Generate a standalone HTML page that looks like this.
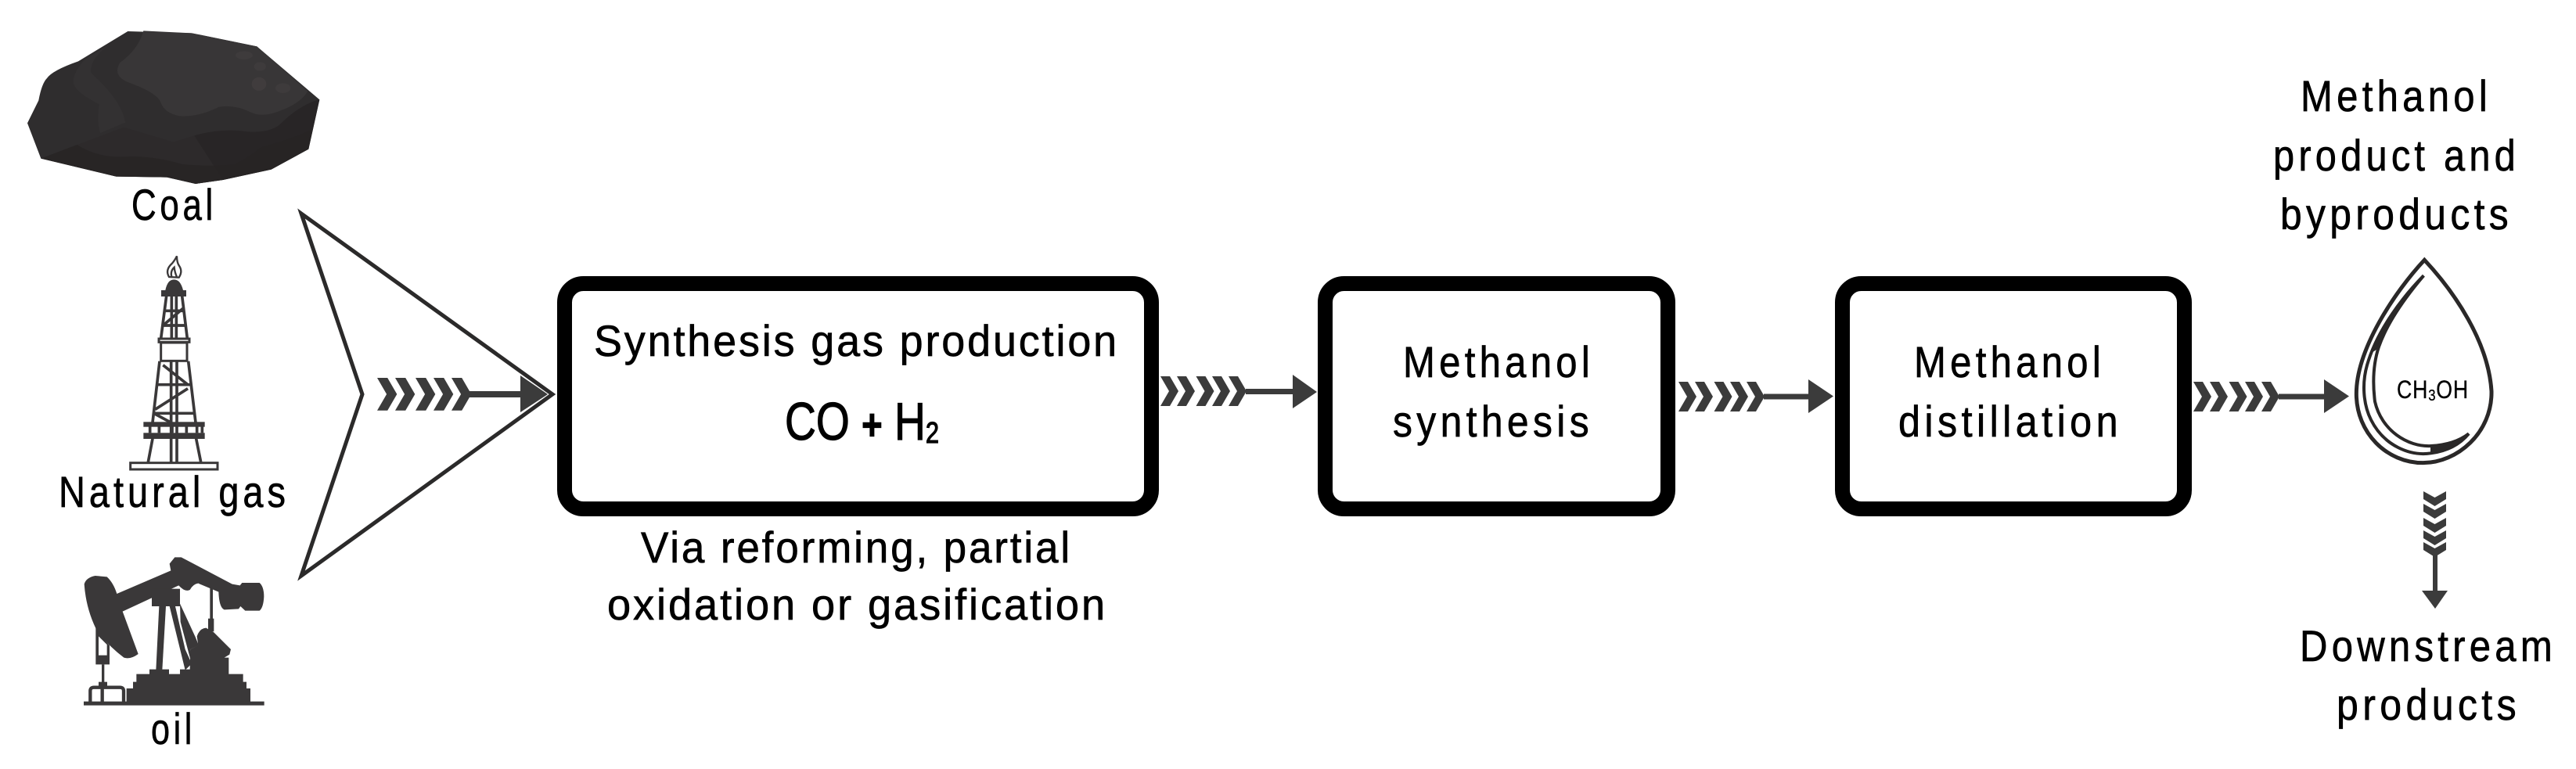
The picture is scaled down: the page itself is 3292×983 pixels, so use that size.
<!DOCTYPE html>
<html><head><meta charset="utf-8">
<style>
html,body{margin:0;padding:0;background:#fff;width:3292px;height:983px;overflow:hidden}
svg{display:block}
text{font-family:"Liberation Sans",sans-serif;font-size:56px;fill:#000;stroke:#000;stroke-width:.7px;letter-spacing:6px}
.t{letter-spacing:3px}
</style></head><body>
<svg width="3292" height="983" viewBox="0 0 3292 983" xmlns="http://www.w3.org/2000/svg">
<defs>
<polygon id="c" points="0,0 12,0 23,19 12,38 0,38 11,19" fill="#3b3b3b"/>
<g id="ch">
<use href="#c" x="0"/><use href="#c" x="21"/><use href="#c" x="45.5"/><use href="#c" x="66"/><use href="#c" x="87"/>
</g>
<polygon id="d" points="0,0 14.5,8 29,0 29,10 14.5,19 0,10" fill="#3b3b3b"/>
</defs>

<!-- Coal -->
<g transform="scale(.33333)">
<path d="M490,120 L735,127 L985,178 L1225,382 L1183,572 L1040,650 L855,690 L750,705 L640,680 L445,677 L157,608 L105,472 L148,385 Q160,320 180,300 Q200,270 300,235 Z" fill="#2f2d2e"/>
<path d="M550,118 L735,127 L985,178 L1180,350 Q1150,400 1060,430 Q1000,450 960,430 Q900,400 840,410 Q760,450 690,445 Q630,435 615,390 Q600,355 490,315 Q430,290 460,240 Q530,190 550,118 Z" fill="#383637"/>
<path d="M420,170 Q340,230 350,280 Q470,390 480,470 L385,510 Q370,470 380,400 Q280,350 280,310 Q290,260 330,225Z" fill="#333132"/>
<path d="M157,608 L475,488 L665,545 L745,520 L855,690 L750,705 L640,680 L445,677Z" fill="#2d2a2b"/>
<path d="M745,520 Q850,490 950,505 Q1030,510 1070,480 Q1150,400 1225,382 L1183,572 L1040,650 L855,690 Z" fill="#282526"/>
<path d="M157,608 L295,555 Q380,610 500,600 Q600,600 700,630 Q820,640 900,630 Q960,600 1000,565 Q1100,540 1190,500 L1183,572 L1040,650 L855,690 L750,705 L640,680 L445,677Z" fill="#262324" opacity=".7"/>
<ellipse cx="936" cy="212" rx="33" ry="16" fill="#3e3b3c"/>
<ellipse cx="997" cy="255" rx="23" ry="17" fill="#3e3b3c"/>
<ellipse cx="993" cy="322" rx="28" ry="26" fill="#403c3d"/>
<ellipse cx="1085" cy="338" rx="29" ry="19" fill="#3e3b3c"/>
</g>
<text x="168" y="281" textLength="109" lengthAdjust="spacingAndGlyphs">Coal</text>

<!-- Derrick -->
<g transform="translate(140,310) scale(.33333)" stroke="#3a3839" fill="none" stroke-width="11">
<path d="M228,132 Q212,105 240,80 Q252,65 258,52 Q258,75 266,88 Q282,110 266,134 Z M238,132 Q232,110 248,95 Q250,115 258,132" stroke-width="7"/>
<path d="M214,183 Q222,142 247,142 Q272,142 282,183 Z" fill="#3a3839" stroke="none"/>
<rect x="198" y="183" width="96" height="24" fill="#3a3839" stroke="none"/>
<path d="M218,205 L197,368 M278,205 L298,368 M238,207 V368 M256,207 V368 M210,262 H286 M203,318 H292 M205,318 L285,250"/>
<rect x="189" y="369" width="117" height="13" stroke-width="9"/>
<rect x="197" y="384" width="100" height="70" stroke-width="9"/>
<path d="M192,455 L165,690 M302,455 L330,690 M236,455 V842 M258,455 V842 M180,545 H312 M172,655 H322 M205,470 L300,545 M300,560 L175,640 M170,655 L238,692"/>
<rect x="130" y="688" width="235" height="19" fill="#3a3839" stroke="none"/>
<rect x="130" y="730" width="235" height="23" fill="#3a3839" stroke="none"/>
<path d="M155,705 V730 M190,705 V730 M240,705 V730 M295,705 V730 M335,705 V730 M355,705 V730"/>
<path d="M165,752 L148,842 M332,752 L350,842"/>
<rect x="80" y="845" width="334" height="25" fill="#fff" stroke-width="9"/>
</g>
<text x="75" y="648" textLength="295" lengthAdjust="spacingAndGlyphs">Natural gas</text>

<!-- Pumpjack -->
<g transform="translate(60,680) scale(.33333)" fill="#3a3839">
<path d="M268,237 L475,148 L470,122 L490,97 L515,97 L710,200 L740,205 L748,195 L815,195 Q832,210 832,248 Q830,290 815,302 L760,302 L742,285 L735,295 L680,298 Q660,290 658,230 L580,197 Q560,200 548,222 Q530,232 505,205 L290,305 L350,468 Q320,490 295,482 Q240,440 195,385 Q150,300 143,200 Q150,175 185,168 L230,172 Q255,195 268,237 Z"/>
<rect x="402" y="218" width="108" height="67"/>
<polygon points="430,285 456,285 442,530 418,530"/>
<polygon points="470,285 492,285 530,450 555,505 530,530"/>
<polygon points="510,275 570,405 582,435 550,450 553,500 512,345"/>
<rect x="625" y="215" width="11" height="120"/>
<rect x="618" y="332" width="22" height="50"/>
<path d="M575,400 Q585,370 610,368 L640,385 L705,450 L700,470 L680,482 L697,482 L697,545 L752,545 L752,575 L765,575 L765,600 L780,600 L780,652 L305,652 L305,600 L330,600 L330,575 L343,575 L343,545 L393,545 L393,527 L468,527 L468,545 L510,545 L510,527 L548,527 L550,450 L580,435 Z"/>
<rect x="141" y="650" width="692" height="15"/>
<path d="M187,365 L200,390 L240,435 L240,508 L187,508 Z M198,400 L198,473 L230,473 L230,432 Z" fill-rule="evenodd"/>
<rect x="210" y="508" width="10" height="70"/>
<rect x="198" y="575" width="33" height="17"/>
<path d="M166,652 V610 Q166,596 180,596 H280 Q294,596 294,610 V652 M212,592 V652" fill="none" stroke="#3a3839" stroke-width="13"/>
</g>
<text x="193" y="951" textLength="57" lengthAdjust="spacingAndGlyphs">oil</text>

<!-- Funnel -->
<path d="M385,273 L706,504 L385,736 L463,504 Z" fill="#fff" stroke="#2b2a2a" stroke-width="5"/>
<use href="#c" transform="translate(482,483) scale(1.1,1.1)"/>
<use href="#c" transform="translate(505,483) scale(1.1,1.1)"/>
<use href="#c" transform="translate(531,483) scale(1.1,1.1)"/>
<use href="#c" transform="translate(554,483) scale(1.1,1.1)"/>
<use href="#c" transform="translate(577,483) scale(1.1,1.1)"/>
<rect x="600" y="500" width="66" height="8" fill="#3b3b3b"/>
<polygon points="665,480 665,527 700,504" fill="#3b3b3b"/>

<!-- Boxes -->
<rect x="721.5" y="362.5" width="750" height="288" rx="24" ry="24" fill="#fff" stroke="#000" stroke-width="19"/>
<rect x="1693.5" y="362.5" width="438" height="288" rx="24" ry="24" fill="#fff" stroke="#000" stroke-width="19"/>
<rect x="2354.5" y="362.5" width="437" height="288" rx="24" ry="24" fill="#fff" stroke="#000" stroke-width="19"/>

<text class="t" x="759" y="455" textLength="671" lengthAdjust="spacingAndGlyphs">Synthesis gas production</text>
<text class="t" x="1003" y="562" textLength="197" lengthAdjust="spacingAndGlyphs" style="font-size:68px;letter-spacing:0;stroke-width:1.2px">CO <tspan font-size="56" font-weight="bold">+</tspan> H<tspan font-size="38" dy="4">2</tspan></text>
<text class="t" x="819" y="719" textLength="551" lengthAdjust="spacingAndGlyphs">Via reforming, partial</text>
<text class="t" x="776" y="792" textLength="639" lengthAdjust="spacingAndGlyphs">oxidation or gasification</text>

<text x="1793" y="482" textLength="244" lengthAdjust="spacingAndGlyphs">Methanol</text>
<text x="1780" y="558" textLength="256" lengthAdjust="spacingAndGlyphs">synthesis</text>
<text x="2446" y="482" textLength="244" lengthAdjust="spacingAndGlyphs">Methanol</text>
<text x="2426" y="558" textLength="286" lengthAdjust="spacingAndGlyphs">distillation</text>

<!-- Arrows -->
<use href="#ch" x="1483" y="481"/>
<rect x="1592" y="497" width="63" height="7" fill="#3b3b3b"/>
<polygon points="1652,479 1652,522 1683,501" fill="#3b3b3b"/>

<use href="#ch" x="2145" y="488"/>
<rect x="2254" y="503.5" width="60" height="7" fill="#3b3b3b"/>
<polygon points="2311,485 2311,528 2343,506.5" fill="#3b3b3b"/>

<use href="#ch" x="2803" y="488"/>
<rect x="2912" y="503.5" width="61" height="7" fill="#3b3b3b"/>
<polygon points="2970,485 2970,528 3002,506.5" fill="#3b3b3b"/>

<use href="#d" x="3097" y="628"/>
<use href="#d" x="3097" y="644"/>
<use href="#d" x="3097" y="662"/>
<use href="#d" x="3097" y="678"/>
<use href="#d" x="3097" y="693"/>
<rect x="3109" y="706" width="6" height="50" fill="#3b3b3b"/>
<polygon points="3095,755 3128,755 3112,778" fill="#3b3b3b"/>

<!-- Drop -->
<g transform="translate(2980,320) scale(.33333)" fill="none" stroke="#2a2828">
<path d="M355,37 C470,160 600,350 612,540 C615,700 480,815 350,815 C210,815 94,700 94,550 C94,380 240,160 355,37 Z" stroke-width="15"/>
<path d="M352,97 C280,170 175,300 135,440 C115,510 120,590 150,650 C200,750 300,790 380,778 C440,770 490,745 525,703" stroke-width="12"/>
<path d="M352,97 C290,170 215,270 180,370 C160,430 155,500 165,580 C190,690 290,755 380,750 C440,747 490,730 525,703" stroke-width="12"/>
<path d="M352,97 C280,170 205,270 165,380 L180,370 C215,270 290,170 352,97 Z" fill="#2a2828" stroke-width="8"/>
<path d="M380,778 C440,770 490,745 525,703 C490,730 440,747 380,750 Z" fill="#2a2828" stroke-width="4"/>
</g>
<text x="3063" y="509" textLength="92" lengthAdjust="spacingAndGlyphs" style="font-size:32px;letter-spacing:1px;stroke-width:.3px">CH<tspan font-size="20" dy="3">3</tspan><tspan dy="-3">OH</tspan></text>

<!-- Right labels -->
<text x="2940" y="142" textLength="244" lengthAdjust="spacingAndGlyphs">Methanol</text>
<text x="2905" y="218" textLength="315" lengthAdjust="spacingAndGlyphs">product and</text>
<text x="2914" y="293" textLength="297" lengthAdjust="spacingAndGlyphs">byproducts</text>
<text x="2939" y="845" textLength="328" lengthAdjust="spacingAndGlyphs">Downstream</text>
<text x="2986" y="920" textLength="235" lengthAdjust="spacingAndGlyphs">products</text>
</svg>
</body></html>
